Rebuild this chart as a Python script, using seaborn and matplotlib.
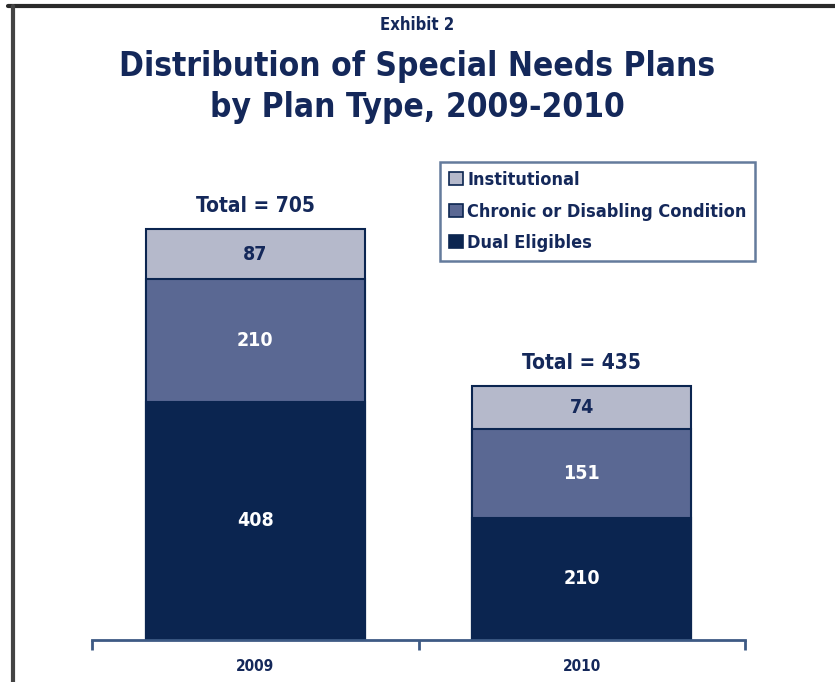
import numpy as np
import pandas as pd
import matplotlib
matplotlib.use("Agg")
import matplotlib.pyplot as plt
from matplotlib.patches import Patch
from matplotlib.lines import Line2D
import seaborn as sns

years = ["2009", "2010"]
dual_eligibles = [408, 210]
chronic = [210, 151]
institutional = [87, 74]
series_names = ["Institutional", "Chronic or Disabling Condition", "Dual Eligibles"]

navy = "#0b2550"
mid_blue = "#5a6893"
light_blue = "#b5b9cb"
axis_blue = "#3d5a84"
text_navy = "#14285a"

sns.set_theme(style="white")
plt.rcParams["font.family"] = ["DejaVu Sans"]
plt.rcParams["font.stretch"] = "condensed"

df = pd.DataFrame({"year": years, "dual": dual_eligibles, "chronic": chronic, "inst": institutional})
df["mid"] = df["dual"] + df["chronic"]
df["total"] = df["mid"] + df["inst"]

fig = plt.figure(figsize=(8.35, 6.82), dpi=100)
ax = fig.add_axes([92 / 835, 1 - 640 / 682, 653 / 835, 490 / 682])

bar_w = 0.67
for col, colr in [("total", light_blue), ("mid", mid_blue), ("dual", navy)]:
    sns.barplot(data=df, x="year", y=col, color=colr, width=bar_w, edgecolor=navy,
                linewidth=1.5, saturation=1, ax=ax)

ax.set_xlim(-0.5, 1.5)
ax.set_ylim(0, 840)
ax.set_xlabel("")
ax.set_ylabel("")
ax.set_yticks([])
for s in ["left", "top", "right"]:
    ax.spines[s].set_visible(False)
ax.spines["bottom"].set_color(axis_blue)
ax.spines["bottom"].set_linewidth(2)

ax.set_xticks([0, 1])
ax.set_xticklabels(years, fontsize=11, fontweight="bold", color=text_navy)
ax.tick_params(axis="x", which="major", length=0, pad=14)
ax.set_xticks([-0.5, 0.5, 1.5], minor=True)
ax.tick_params(axis="x", which="minor", bottom=True, length=7, width=2, color=axis_blue, direction="out")

# segment values and totals
for i, row in df.iterrows():
    ax.text(i, row["dual"] / 2, str(row["dual"]), ha="center", va="center",
            fontsize=14, fontweight="bold", color="white")
    ax.text(i, row["dual"] + row["chronic"] / 2, str(row["chronic"]), ha="center", va="center",
            fontsize=14, fontweight="bold", color="white")
    ax.text(i, row["mid"] + row["inst"] / 2, str(row["inst"]), ha="center", va="center",
            fontsize=14, fontweight="bold", color=text_navy)
    ax.text(i, row["total"] + 22, f"Total = {row['total']}", ha="center", va="bottom",
            fontsize=15, fontweight="bold", color=text_navy)

handles = [Patch(facecolor=c, edgecolor=navy, linewidth=1.2) for c in [light_blue, mid_blue, navy]]
leg = fig.legend(handles, series_names, loc="upper left",
                 bbox_to_anchor=(440 / 835, 1 - 162 / 682), bbox_transform=fig.transFigure,
                 borderaxespad=0, frameon=True, fancybox=False, handlelength=0.75, handleheight=0.75,
                 handletextpad=0.25, labelspacing=0.75, borderpad=0.5,
                 prop={"size": 13, "weight": "bold", "stretch": "condensed"})
leg.get_frame().set_edgecolor(axis_blue)
leg.get_frame().set_linewidth(1.8)
for t in leg.get_texts():
    t.set_color(text_navy)

fig.text(0.5, 1 - 25 / 682, "Exhibit 2", ha="center", va="center",
         fontsize=12, fontweight="bold", color=text_navy)
fig.text(0.5, 1 - 87 / 682, "Distribution of Special Needs Plans\nby Plan Type, 2009-2010",
         ha="center", va="center", fontsize=24, fontweight="bold", color=text_navy,
         linespacing=1.3)

# page frame
fig.add_artist(Line2D([8 / 835, 1], [1 - 6 / 682, 1 - 6 / 682], color="#2a2a2a", lw=3))
fig.add_artist(Line2D([13 / 835, 13 / 835], [0, 1 - 6 / 682], color="#444444", lw=3))

fig.savefig("out.png", dpi=100)
